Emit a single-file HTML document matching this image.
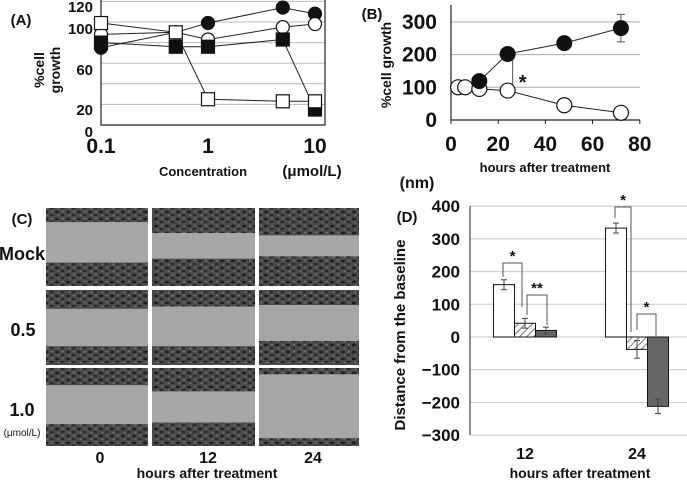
<!DOCTYPE html>
<html><head><meta charset="utf-8"><style>
html,body{margin:0;padding:0;background:#fff;}
svg{display:block;font-family:"Liberation Sans",Arial,sans-serif;font-weight:bold;}
</style></head><body>
<svg id="fig" width="687" height="481" viewBox="0 0 687 481" xmlns="http://www.w3.org/2000/svg">
<defs>
<pattern id="hatch" width="5" height="5" patternUnits="userSpaceOnUse" patternTransform="rotate(45)">
<rect width="5" height="5" fill="#fff"/><line x1="0" y1="0" x2="0" y2="5" stroke="#777" stroke-width="2"/></pattern>
<pattern id="cells" width="11" height="7" patternUnits="userSpaceOnUse">
<rect width="11" height="7" fill="#4a4a4a"/><ellipse cx="2" cy="2" rx="2.2" ry="1.2" fill="#1e1e1e"/><ellipse cx="7.5" cy="5" rx="2" ry="1" fill="#262626"/><ellipse cx="8" cy="1.5" rx="1" ry="0.8" fill="#7a7a7a"/><ellipse cx="3.5" cy="5.5" rx="1" ry="0.7" fill="#777"/></pattern>
</defs>
<g id="panelA"></g>
<g id="panelB"></g>
<g id="panelC"></g>
<g id="panelD"></g>
</svg>
<script>
// Panel A data
const concA = [0.1, 0.5, 1, 5, 10];
const filledCircleA = [75, 90, 99, 114, 108];
const openCircleA = [88, 90, 83, 95, 98];
const filledSquareA = [80, 76, 76, 83, 15];
const openSquareA = [99, 90, 25, 23, 23];
const yTicksA = ["120","100","60","20","0"];
const xTicksA = ["0.1","1","10"];
// Panel B data
const hoursFilledB = [12, 24, 48, 72];
const filledB = [119, 202, 235, 281];
const filledErrB = [0, 0, 0, 42];
const hoursOpenB = [3, 6, 12, 24, 48, 72];
const openB = [100, 100, 95, 90, 45, 22];
const yTicksB = [0, 100, 200, 300];
const xTicksB = [0, 20, 40, 60, 80];
// Panel D data
const catD = ["12", "24"];
const mockD = [160, 333];
const mockErrD = [15, 15];
const lowD = [42, -38];
const lowErrD = [15, 27];
const highD = [20, -212];
const highErrD = [10, 22];
const yTicksD = [400, 300, 200, 100, 0, -100, -200, -300];
// Panel C bands: [top fraction, bottom start fraction]
const rowsC = ["Mock", "0.5", "1.0"];
const colsC = ["0", "12", "24"];
const topBand = [[0.18,0.32,0.35],[0.25,0.22,0.2],[0.22,0.3,0.08]];
const botBand = [[0.7,0.65,0.62],[0.75,0.75,0.68],[0.72,0.7,0.9]];

const NS = "http://www.w3.org/2000/svg";
function mk(parent, tag, attrs, text){
  const e = document.createElementNS(NS, tag);
  for (const k in attrs) e.setAttribute(k, attrs[k]);
  if (text !== undefined) e.textContent = text;
  parent.appendChild(e); return e;
}
function txt(p, x, y, s, size, anchor, name){
  const t = mk(p, "text", {x:x, y:y, "font-size":size, "text-anchor":anchor||"middle", fill:"#111"}, s);
  
  
  return t;
}

// ---------- Panel A ----------
(function(){
  const g = document.getElementById("panelA");
  const xA = v => 101 + Math.log10(v/0.1) * 107;
  const yA = v => 125 - v * 1.03;
  [20,40,60,80,100,120].forEach(v=>{
    const l = mk(g,"line",{x1:101,x2:325,y1:yA(v),y2:yA(v),stroke:"#bbb","stroke-width":1});
    
    
  });
  const ax = mk(g,"path",{d:"M101 0 V125 H325 V0",fill:"none",stroke:"#222","stroke-width":1.2});
  
  
  const yPos = [7,29,70,110,132];
  yTicksA.forEach((s,i)=>txt(g,93,yPos[i]+5,s,15,"end","y-tick-a"));
  [0.1,1,10].forEach((v,i)=>txt(g,xA(v),153,xTicksA[i],21,"middle","x-tick-a"));
  txt(g,203,176,"Concentration",13,"middle","x-axis-title-a");
  txt(g,312,176,"(μmol/L)",15,"middle","x-unit-a");
  txt(g,21,25,"(A)",15,"middle","panel-label-a");
  const yt = mk(g,"text",{transform:"translate(52,70) rotate(-90)","font-size":14,"text-anchor":"middle",fill:"#111"});
  
  
  mk(yt,"tspan",{x:0,dy:-8},"%cell");
  mk(yt,"tspan",{x:0,dy:16},"growth");
  const series = [[filledCircleA,"circle","#111"],[openCircleA,"circle","#fff"],[filledSquareA,"square","#111"],[openSquareA,"square","#fff"]];
  series.forEach(([vals,shape,fill],si)=>{
    const pts = vals.map((v,i)=>xA(concA[i])+","+yA(v)).join(" ");
    const pl = mk(g,"polyline",{points:pts,fill:"none",stroke:"#222","stroke-width":1});
    
    
  });
  series.forEach(([vals,shape,fill],si)=>{
    vals.forEach((v,i)=>{
      let m;
      if (shape==="circle") m = mk(g,"circle",{cx:xA(concA[i]),cy:yA(v),r:6.5,fill:fill,stroke:"#111","stroke-width":1.2});
      else m = mk(g,"rect",{x:xA(concA[i])-6.5,y:yA(v)-6.5,width:13,height:13,fill:fill,stroke:"#111","stroke-width":1.2});
      
      
    });
  });
})();

// ---------- Panel B ----------
(function(){
  const g = document.getElementById("panelB");
  const xB = v => 451 + v * 2.36;
  const yB = v => 120 - v * 0.327;
  [100,200,300].forEach(v=>{
    const l = mk(g,"line",{x1:451,x2:640,y1:yB(v),y2:yB(v),stroke:"#aaa","stroke-width":1});
    
    
  });
  const ax = mk(g,"path",{d:"M451 5 V120 H640",fill:"none",stroke:"#222","stroke-width":1.2});
  
  
  xTicksB.forEach(v=>{
    const t = mk(g,"line",{x1:xB(v),x2:xB(v),y1:120,y2:124,stroke:"#222"});
    
    
    txt(g,xB(v),151,String(v),21,"middle","x-tick-b");
  });
  yTicksB.forEach(v=>txt(g,437,yB(v)+7,String(v),21,"end","y-tick-b"));
  txt(g,545,172,"hours after treatment",13,"middle","x-axis-title-b");
  txt(g,372,19,"(B)",15,"middle","panel-label-b");
  const yt = txt(g,0,0,"%cell growth",14,"middle","y-axis-title-b");
  yt.setAttribute("transform","translate(391,65) rotate(-90)");
  // significance
  const br = mk(g,"path",{d:`M${xB(24)} ${yB(filledB[1])} H${xB(24)+5} V${yB(openB[3])} H${xB(24)}`,fill:"none",stroke:"#555","stroke-width":1});
  
  
  txt(g,xB(24)+15,89,"*",20,"middle","significance-star-b");
  const draw = (xs, vals, name) => {
    const pl = mk(g,"polyline",{points:vals.map((v,i)=>xB(xs[i])+","+yB(v)).join(" "),fill:"none",stroke:"#222","stroke-width":1});
    
    
  };
  draw(hoursFilledB, filledB, "treated-b");
  draw(hoursOpenB, openB, "control-b");
  filledErrB.forEach((e,i)=>{
    if(!e) return;
    const x = xB(hoursFilledB[i]);
    const eb = mk(g,"path",{d:`M${x} ${yB(filledB[i]+e)} V${yB(filledB[i]-e)} M${x-4} ${yB(filledB[i]+e)} H${x+4} M${x-4} ${yB(filledB[i]-e)} H${x+4}`,stroke:"#555",fill:"none"});
    
    
  });
  openB.forEach((v,i)=>{
    const c = mk(g,"circle",{cx:xB(hoursOpenB[i]),cy:yB(v),r:7.5,fill:"#fff",stroke:"#111","stroke-width":1.2});
    
    
  });
  filledB.forEach((v,i)=>{
    const c = mk(g,"circle",{cx:xB(hoursFilledB[i]),cy:yB(v),r:7.5,fill:"#111",stroke:"#111"});
    
    
  });
})();

// ---------- Panel C ----------
(function(){
  const g = document.getElementById("panelC");
  const colX = [[46,148],[152,255],[259,359]];
  const rowY = [[208,286],[290,365],[368,446]];
  rowsC.forEach((r,ri)=>{
    colsC.forEach((c,ci)=>{
      const [x0,x1] = colX[ci], [y0,y1] = rowY[ri], h = y1-y0, w = x1-x0;
      const bg = mk(g,"rect",{x:x0,y:y0,width:w,height:h,fill:"#a6a6a6"});
      
      
      const t = mk(g,"rect",{x:x0,y:y0,width:w,height:h*topBand[ri][ci],fill:"url(#cells)"});
      
      
      const bs = botBand[ri][ci];
      const b = mk(g,"rect",{x:x0,y:y0+h*bs,width:w,height:h*(1-bs),fill:"url(#cells)"});
      
      
    });
  });
  txt(g,22,224,"(C)",15,"middle","panel-label-c");
  txt(g,22,260,"Mock",18,"middle","row-label-mock");
  txt(g,23,336,"0.5",18,"middle","row-label-0-5");
  txt(g,22,416,"1.0",18,"middle","row-label-1-0");
  const u = txt(g,22,436,"(μmol/L)",10,"middle","row-unit-c"); u.setAttribute("font-weight","normal");
  [100,208,313].forEach((x,i)=>txt(g,x,463,colsC[i],16,"middle","column-label-c"));
  txt(g,207,478,"hours after treatment",14,"middle","x-axis-title-c");
})();

// ---------- Panel D ----------
(function(){
  const g = document.getElementById("panelD");
  const yD = v => 337 - v * 0.3271;
  const catX = [525, 637];
  const bw = 21;
  yTicksD.forEach(v=>{
    const l = mk(g,"line",{x1:470,x2:687,y1:yD(v),y2:yD(v),stroke:"#c8c8c8","stroke-width":1});
    
    
    txt(g,460,yD(v)+6,(v<0?"\u2212"+(-v):String(v)),17,"end","y-tick-d");
  });
  const ax = mk(g,"line",{x1:470,x2:470,y1:206,y2:435,stroke:"#222","stroke-width":1});
  
  
  const sets = [[mockD,mockErrD,"#fff","mock"],[lowD,lowErrD,"url(#hatch)","low-dose"],[highD,highErrD,"#666","high-dose"]];
  catD.forEach((c,ci)=>{
    sets.forEach(([vals,errs,fill,nm],si)=>{
      const x = catX[ci] - 1.5*bw + si*bw, v = vals[ci];
      const r = mk(g,"rect",{x:x,y:Math.min(yD(v),yD(0)),width:bw,height:Math.abs(yD(v)-yD(0)),fill:fill,stroke:"#111","stroke-width":1});
      
      
      const cx = x + bw/2, e = errs[ci];
      const eb = mk(g,"path",{d:`M${cx} ${yD(v+e)} V${yD(v-e)} M${cx-3} ${yD(v+e)} H${cx+3} M${cx-3} ${yD(v-e)} H${cx+3}`,stroke:"#444",fill:"none"});
      
      
    });
    txt(g,catX[ci],459,c,16,"middle","x-tick-d");
  });
  const brackets = [[503,522,263,277,307,"*"],[527,547,295,315,325,"**"],[615,631,207,218,332,"*"],[637,656,314,330,337,"*"]];
  brackets.forEach(([x1,x2,top,l,r,s])=>{
    const p = mk(g,"path",{d:`M${x1} ${l} V${top} H${x2} V${r}`,fill:"none",stroke:"#555","stroke-width":1});
    
    
    txt(g,(x1+x2)/2,top-2,s,15,"middle","significance-star-d");
  });
  txt(g,407,222,"(D)",15,"middle","panel-label-d");
  txt(g,417,188,"(nm)",16,"middle","unit-label-d");
  const yt = txt(g,0,0,"Distance from the baseline",15,"middle","y-axis-title-d");
  yt.setAttribute("transform","translate(405,335) rotate(-90)");
  txt(g,580,478,"hours after treatment",14,"middle","x-axis-title-d");
})();
</script>
</body></html>
